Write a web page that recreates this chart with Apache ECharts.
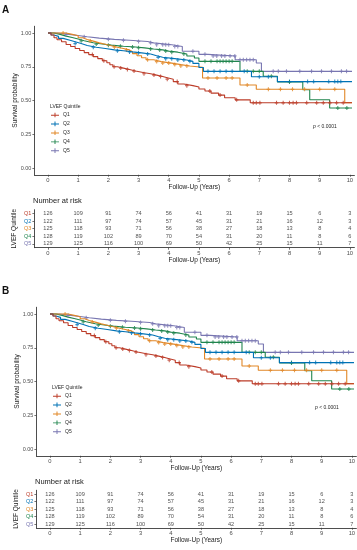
<!DOCTYPE html>
<html><head><meta charset="utf-8">
<script src="https://cdn.jsdelivr.net/npm/echarts@6/dist/echarts.min.js"></script>
<style>html,body{margin:0;padding:0;background:#fff}#c{width:357px;height:550px}</style>
</head><body><div id="c"></div>
<script>
const groups = ['Q1','Q2','Q3','Q4','Q5'];
const colors = ['#BC3C29','#0072B5','#E18727','#20854E','#7876B1'];
const maxFollowUp = 10.07;

const q1Time = [0,0.1,0.2,0.3,0.45,0.6,0.75,0.9,1.05,1.2,1.35,1.5,1.65,1.8,1.95,2.05,2.15,2.3,2.5,2.7,2.9,3.15,3.4,3.6,3.8,3.95,4.15,4.3,4.5,4.8,5.0,5.2,5.4,5.65,5.85,6.2,6.7];
const q1Surv = [1,0.985,0.965,0.95,0.935,0.915,0.9,0.885,0.87,0.855,0.84,0.825,0.81,0.795,0.78,0.765,0.75,0.74,0.73,0.718,0.708,0.698,0.688,0.678,0.668,0.658,0.64,0.622,0.61,0.6,0.585,0.57,0.555,0.54,0.52,0.505,0.483];
const q2Time = [0,0.1,0.2,0.35,0.5,0.7,0.9,1.1,1.3,1.6,1.9,2.2,2.5,2.8,3.1,3.4,3.6,3.8,4.2,4.6,4.8,5.0,5.15,6.74,7.6];
const q2Surv = [1,0.985,0.975,0.96,0.948,0.935,0.922,0.908,0.895,0.885,0.875,0.868,0.86,0.853,0.845,0.832,0.82,0.81,0.8,0.79,0.775,0.745,0.716,0.676,0.64];
const q3Time = [0,0.6,0.8,1.0,1.15,1.3,1.5,1.7,1.9,2.1,2.3,2.5,2.7,2.8,2.95,3.1,3.25,3.5,3.75,4.1,4.4,4.7,5.12,6.36,6.9,9.83];
const q3Surv = [1,0.99,0.98,0.965,0.952,0.94,0.927,0.916,0.905,0.895,0.885,0.875,0.862,0.847,0.832,0.817,0.802,0.788,0.777,0.766,0.756,0.746,0.667,0.615,0.583,0.484];
const q4Time = [0,0.2,0.4,0.6,0.8,1.0,1.2,1.5,1.8,2.1,2.5,2.9,3.2,3.5,3.8,4.0,4.3,4.6,4.85,5.0,6.36,7.13,7.6,8.44,8.67,9.33];
const q4Surv = [1,0.99,0.977,0.966,0.955,0.942,0.928,0.918,0.91,0.902,0.896,0.89,0.882,0.875,0.866,0.858,0.845,0.83,0.815,0.79,0.716,0.68,0.637,0.58,0.506,0.444];
const q5Time = [0,0.3,0.7,1.0,1.3,1.7,2.2,2.7,3.3,3.5,4.1,4.45,5.0,5.3,6.2,6.9,7.07];
const q5Surv = [1,0.99,0.982,0.972,0.962,0.953,0.946,0.937,0.927,0.913,0.9,0.865,0.842,0.83,0.802,0.778,0.716];

const q1Censor = [1.47,1.85,2.19,2.41,2.63,2.85,3.18,3.51,3.73,3.95,4.28,4.6,5.36,5.7,6.25,6.8,6.9,7.02,7.57,7.79,8.0,8.12,8.23,8.57,8.9,9.12,9.34,9.56,9.78];
const q2Censor = [0.9,1.5,2.3,2.7,3.0,3.3,3.65,3.9,4.1,4.3,4.5,4.7,5.3,5.5,5.7,5.9,6.1,6.5,7.0,7.3,8.0,8.6,8.8,9.3,9.5,9.6,9.7];
const q3Censor = [0.5,1.4,2.2,2.6,3.3,3.6,3.8,4.0,4.2,4.4,4.6,5.3,5.6,5.9,6.1,6.6,7.3,7.7,8.1,8.5,9.0,9.5];
const q4Censor = [1.1,1.6,2.0,2.4,2.8,3.0,3.4,3.7,3.9,4.1,4.5,5.2,5.4,5.6,5.7,5.8,5.9,6.0,6.1,6.6,6.8,7.0,7.4,8.0,9.6,9.9];
const q5Censor = [0.6,1.2,2.0,2.5,3.0,3.4,3.6,3.8,3.9,4.0,4.2,4.3,4.8,5.2,5.47,5.59,5.75,5.86,6.03,6.19,6.36,6.47,6.58,6.69,6.8,7.46,7.63,7.9,8.34,8.73,9.06,9.39,9.72,9.89];

const riskTimes = [0,1,2,3,4,5,6,7,8,9,10];
const riskQ1 = [126,109,91,74,56,41,31,19,15,6,3];
const riskQ2 = [122,111,97,74,57,45,31,21,16,12,3];
const riskQ3 = [125,118,93,71,56,38,27,18,13,8,4];
const riskQ4 = [128,119,102,89,70,54,31,20,11,8,6];
const riskQ5 = [129,125,116,100,69,50,42,25,15,11,7];

const xTicks = [0,1,2,3,4,5,6,7,8,9,10];
const yTicks = [0,0.25,0.5,0.75,1];
const yTickLabels = ['0.00','0.25','0.50','0.75','1.00'];

const times = [q1Time,q2Time,q3Time,q4Time,q5Time];
const survs = [q1Surv,q2Surv,q3Surv,q4Surv,q5Surv];
const censors = [q1Censor,q2Censor,q3Censor,q4Censor,q5Censor];
const risks = [riskQ1,riskQ2,riskQ3,riskQ4,riskQ5];

function stepAt(tArr, sArr, t){ let s = sArr[0]; for(let i=0;i<tArr.length;i++){ if(tArr[i]<=t) s=sArr[i]; } return s; }

const FONT = 'Liberation Sans, Arial, sans-serif';
const AX = '#3a3a3a';
const LBL = '#4d4d4d';
const plusPath = 'path://M3.5,0h3v3.5h3.5v3h-3.5v3.5h-3v-3.5h-3.5v-3h3.5z';

const panels = [
  {dx:0, dy:0, left:34.4, plotTop:26.25, tabTop:209.7, tabH:38},
  {dx:2, dy:281, left:36.4, plotTop:307.25, tabTop:490.25, tabH:37.5}
];

const grid=[], xAxis=[], yAxis=[], series=[], legend=[], graphic=[];
panels.forEach((p, pi) => {
  const gPlot = grid.length;
  grid.push({left:p.left, top:p.plotTop, width:320, height:148.5, outerBoundsMode:'none', containLabel:false});
  const gTab = grid.length;
  grid.push({left:p.left, top:p.tabTop, width:320, height:p.tabH, outerBoundsMode:'none', containLabel:false});
  const xAx = (gi) => ({
    type:'value', gridIndex:gi, min:-0.45, max:10.15,
    name:'Follow-Up (Years)', nameLocation:'middle', nameGap:9, nameMoveOverlap:false,
    nameTextStyle:{fontSize:6.5, color:'#1a1a1a', fontFamily:FONT},
    axisLine:{show:true, onZero:false, lineStyle:{color:AX, width:0.9}},
    axisTick:{show:true, length:2, customValues:xTicks, lineStyle:{color:AX, width:0.7}},
    axisLabel:{show:true, customValues:xTicks, fontSize:5.8, color:LBL, margin:2.5, fontFamily:FONT, hideOverlap:false, formatter: v => String(v)},
    splitLine:{show:false}
  });
  const xiPlot = xAxis.length; xAxis.push(xAx(gPlot));
  const xiTab = xAxis.length; xAxis.push(xAx(gTab));
  const yiPlot = yAxis.length;
  yAxis.push({
    type:'value', gridIndex:gPlot, min:-0.05, max:1.05,
    name:'Survival probability', nameLocation:'middle', nameGap:15.5, nameMoveOverlap:false,
    nameTextStyle:{fontSize:6.5, color:'#1a1a1a', fontFamily:FONT},
    axisLine:{show:true, onZero:false, lineStyle:{color:AX, width:0.9}},
    axisTick:{show:true, length:2, customValues:yTicks, lineStyle:{color:AX, width:0.7}},
    axisLabel:{show:true, customValues:yTicks, fontSize:5.5, color:LBL, margin:3, fontFamily:FONT, hideOverlap:false,
      formatter: v => yTickLabels[yTicks.indexOf(Math.round(v*100)/100)] || v.toFixed(2)},
    splitLine:{show:false}
  });
  const yiTab = yAxis.length;
  const rich = {}; groups.forEach((g,i)=>{ rich['c'+i] = {color:colors[i], fontSize:5.5, fontFamily:FONT}; });
  yAxis.push({
    type:'category', gridIndex:gTab, data:groups, inverse:true,
    name:'LVEF Quintile', nameLocation:'middle', nameGap:17, nameMoveOverlap:false,
    nameTextStyle:{fontSize:6.5, color:'#1a1a1a', fontFamily:FONT},
    axisLine:{show:true, onZero:false, lineStyle:{color:AX, width:0.9}},
    axisTick:{show:true, length:2, alignWithLabel:true, interval:0, lineStyle:{color:AX, width:0.7}},
    axisLabel:{show:true, margin:3, interval:0, hideOverlap:false, formatter: v => '{c'+groups.indexOf(v)+'|'+v+'}', rich:rich},
    splitLine:{show:false}
  });
  groups.forEach((g, i) => {
    const data = times[i].map((t,k)=>[t, survs[i][k]]);
    data.push([maxFollowUp, survs[i][survs[i].length-1]]);
    series.push({type:'line', name:g, xAxisIndex:xiPlot, yAxisIndex:yiPlot, step:'end', data:data,
      symbol:'none', showSymbol:false, lineStyle:{color:colors[i], width:1.1}, itemStyle:{color:colors[i]}, z:3+(4-i), animation:false, silent:true});
    series.push({type:'scatter', name:g+' censored', xAxisIndex:xiPlot, yAxisIndex:yiPlot,
      data: censors[i].map(t=>[t, stepAt(times[i], survs[i], t)]),
      symbol:plusPath, symbolSize:[3.5,4], itemStyle:{color:colors[i]}, z:4, animation:false, silent:true});
    series.push({type:'scatter', name:g+' risk', xAxisIndex:xiTab, yAxisIndex:yiTab,
      data: riskTimes.map((t,k)=>[t, g, risks[i][k]]),
      symbolSize:1, itemStyle:{color:'rgba(0,0,0,0)'},
      labelLayout:{hideOverlap:false},
      label:{show:true, position:'inside', formatter: q => String(q.data[2]), fontSize:5.6, color:'#262626', fontFamily:FONT},
      animation:false, silent:true});
  });
  legend.push({
    data:groups.map(g=>({name:g, icon:'path://M0,4.5h10v1.2h-10z M4.4,2h1.2v5.8h-1.2z'})),
    orient:'vertical', left:51 + p.dx, top:112.5 + p.dy, itemWidth:8, itemHeight:5, itemGap:3.9,
    textStyle:{fontSize:5, color:'#262626', fontFamily:FONT, padding:[0,0,0,-1]}, selectedMode:false, padding:0
  });
  graphic.push({type:'text', left:2, top:5 + p.dy, style:{text: pi===0?'A':'B', font:'bold 10px '+FONT, fill:'#111'}});
  graphic.push({type:'text', left:50 + p.dx, top:104 + p.dy, style:{text:'LVEF Quintile', font:'5px '+FONT, fill:'#262626'}});
  graphic.push({type:'text', left:313 + p.dx, top:124.5 + p.dy, style:{text:'{i|p} < 0.0001', font:'5px '+FONT, fill:'#262626', rich:{i:{fontStyle:'italic', fontSize:5, fontFamily:FONT}}}});
  graphic.push({type:'text', left:33 + p.dx, top:196.5 + p.dy, style:{text:'Number at risk', font:'7.5px '+FONT, fill:'#1a1a1a'}});
});

const chart = echarts.init(document.getElementById('c'), null, {renderer:'canvas'});
chart.setOption({backgroundColor:'#fff', animation:false, grid, xAxis, yAxis, series, legend, graphic, tooltip:{show:false}});
</script></body></html>
